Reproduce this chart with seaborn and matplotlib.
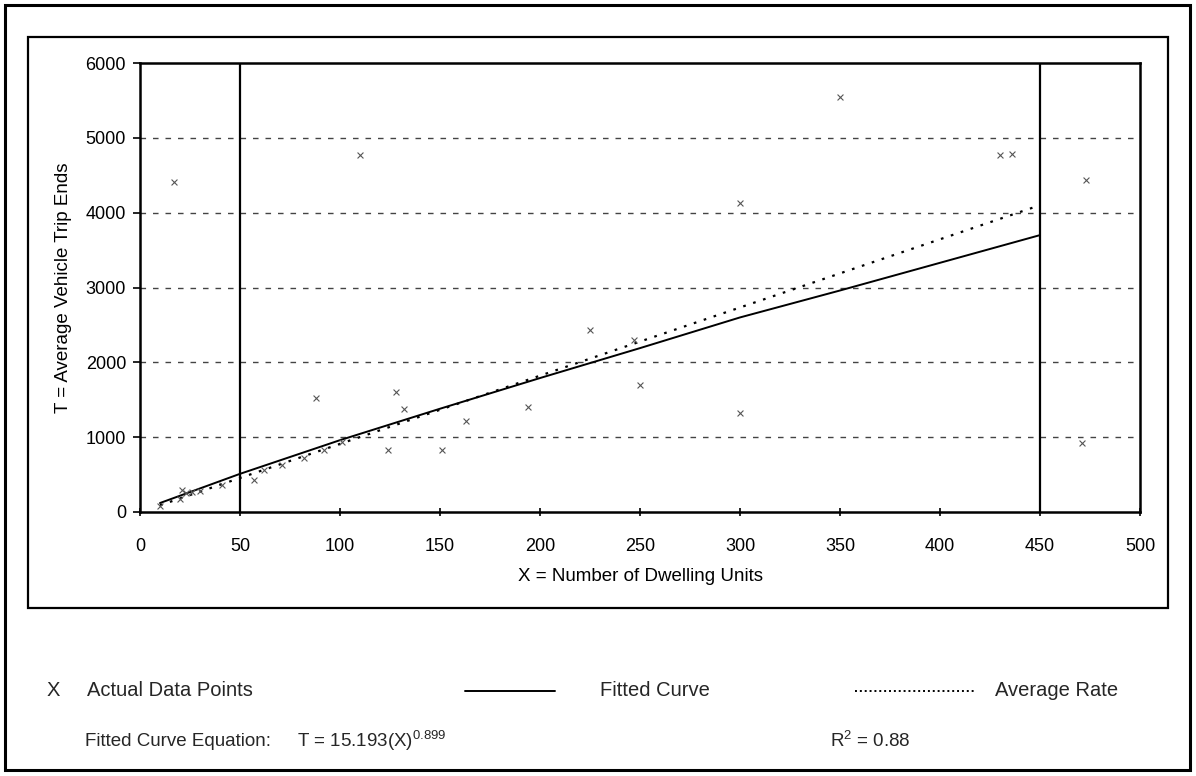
import matplotlib
matplotlib.use("Agg")
import matplotlib.pyplot as plt
import seaborn as sns
import pandas as pd
from matplotlib.patches import Rectangle

# ---- data ----
pts_x = [10, 20, 21, 23, 26, 30, 41, 57, 62, 71, 82, 88, 92, 101, 110, 124, 128, 132,
         151, 163, 194, 225, 247, 250, 300, 300, 350, 430, 436, 17, 473, 471]
pts_t = [80, 180, 300, 250, 270, 280, 360, 430, 560, 630, 720, 1530, 830, 935, 4770, 830,
         1600, 1380, 830, 1210, 1400, 2430, 2300, 1700, 1320, 4130, 5550, 4770, 4790, 4410,
         4440, 920]

fit_x = [10, 50, 100, 150, 200, 250, 300, 350, 400, 450]
fit_t = [120, 510, 960, 1380, 1790, 2190, 2600, 2960, 3330, 3700]

avg_x = [10, 450]
avg_t = [90, 4100]

range_x = [50, 450]

x_ticks = [0, 50, 100, 150, 200, 250, 300, 350, 400, 450, 500]
y_ticks = [0, 1000, 2000, 3000, 4000, 5000, 6000]

xlabel = "X = Number of Dwelling Units"
ylabel = "T = Average Vehicle Trip Ends"

# ---- styling ----
sns.set_theme(style="white")
plt.rcParams['font.family'] = ['Liberation Sans', 'DejaVu Sans']
plt.rcParams['mathtext.fontset'] = 'custom'
plt.rcParams['mathtext.rm'] = 'Liberation Sans'
plt.rcParams['mathtext.it'] = 'Liberation Sans:italic'

W, H = 1196, 776
fig = plt.figure(figsize=(W / 100, H / 100), dpi=100)
ax = fig.add_axes([140 / W, 1 - 512 / H, 1000 / W, (512 - 63) / H])

pts = pd.DataFrame({"x": pts_x, "t": pts_t})
fit = pd.DataFrame({"x": fit_x, "t": fit_t})
avg = pd.DataFrame({"x": avg_x, "t": avg_t})

for yv in y_ticks[1:-1]:
    ax.axhline(yv, color="#444444", lw=1.0, ls=(0, (4, 5)), zorder=1)
for xv in range_x:
    ax.axvline(xv, color="black", lw=1.6, zorder=2)

sns.lineplot(data=fit, x="x", y="t", ax=ax, color="black", lw=1.4, zorder=3)
sns.lineplot(data=avg, x="x", y="t", ax=ax, color="black", lw=1.6,
             ls=(0, (1.2, 3.5)), zorder=3)
sns.scatterplot(data=pts, x="x", y="t", ax=ax, marker="x", s=18, color="#555555",
                linewidth=0.8, zorder=4)

ax.set_xlim(0, 500)
ax.set_ylim(0, 6000)
ax.set_xticks(x_ticks)
ax.set_yticks(y_ticks)
ax.tick_params(axis="x", direction="inout", length=6, width=1.2, pad=16,
               labelsize=13, colors="black")
ax.tick_params(axis="y", direction="out", length=5, width=1.2, pad=5,
               labelsize=13, colors="black")
ax.tick_params(bottom=True, left=True)
for s in ax.spines.values():
    s.set_color("black")
    s.set_linewidth(1.8)
ax.set_xlabel(xlabel, fontsize=13.5, color="black", labelpad=9)
ax.set_ylabel(ylabel, fontsize=13.5, color="black", labelpad=10)

# frames
fig.patches.append(Rectangle((5 / W, 1 - 770 / H), 1185 / W, 765 / H, transform=fig.transFigure,
                             fill=False, lw=2.2, ec="black"))
fig.patches.append(Rectangle((28 / W, 1 - 608 / H), 1140 / W, 571 / H, transform=fig.transFigure,
                             fill=False, lw=1.6, ec="black"))

# legend row
ly = 1 - 691 / H
fs = 14.5
fig.text(47 / W, ly, "X", fontsize=fs, va="center", ha="left")
fig.text(87 / W, ly, "Actual Data Points", fontsize=fs, va="center", ha="left")
fig.add_artist(plt.Line2D([465 / W, 555 / W], [ly, ly], color="black", lw=1.4))
fig.text(600 / W, ly, "Fitted Curve", fontsize=fs, va="center", ha="left")
fig.add_artist(plt.Line2D([855 / W, 975 / W], [ly, ly], color="black", lw=1.4,
                          ls=(0, (1, 1.5))))
fig.text(995 / W, ly, "Average Rate", fontsize=fs, va="center", ha="left")

ey = 1 - 741 / H
efs = 13.5
fig.text(85 / W, ey, "Fitted Curve Equation:", fontsize=efs, va="center", ha="left")
fig.text(297 / W, ey, r"T = 15.193(X)$^{0.899}$", fontsize=efs, va="center", ha="left")
fig.text(830 / W, ey, r"R$^{2}$ = 0.88", fontsize=efs, va="center", ha="left")

fig.savefig("out.png", dpi=100)
